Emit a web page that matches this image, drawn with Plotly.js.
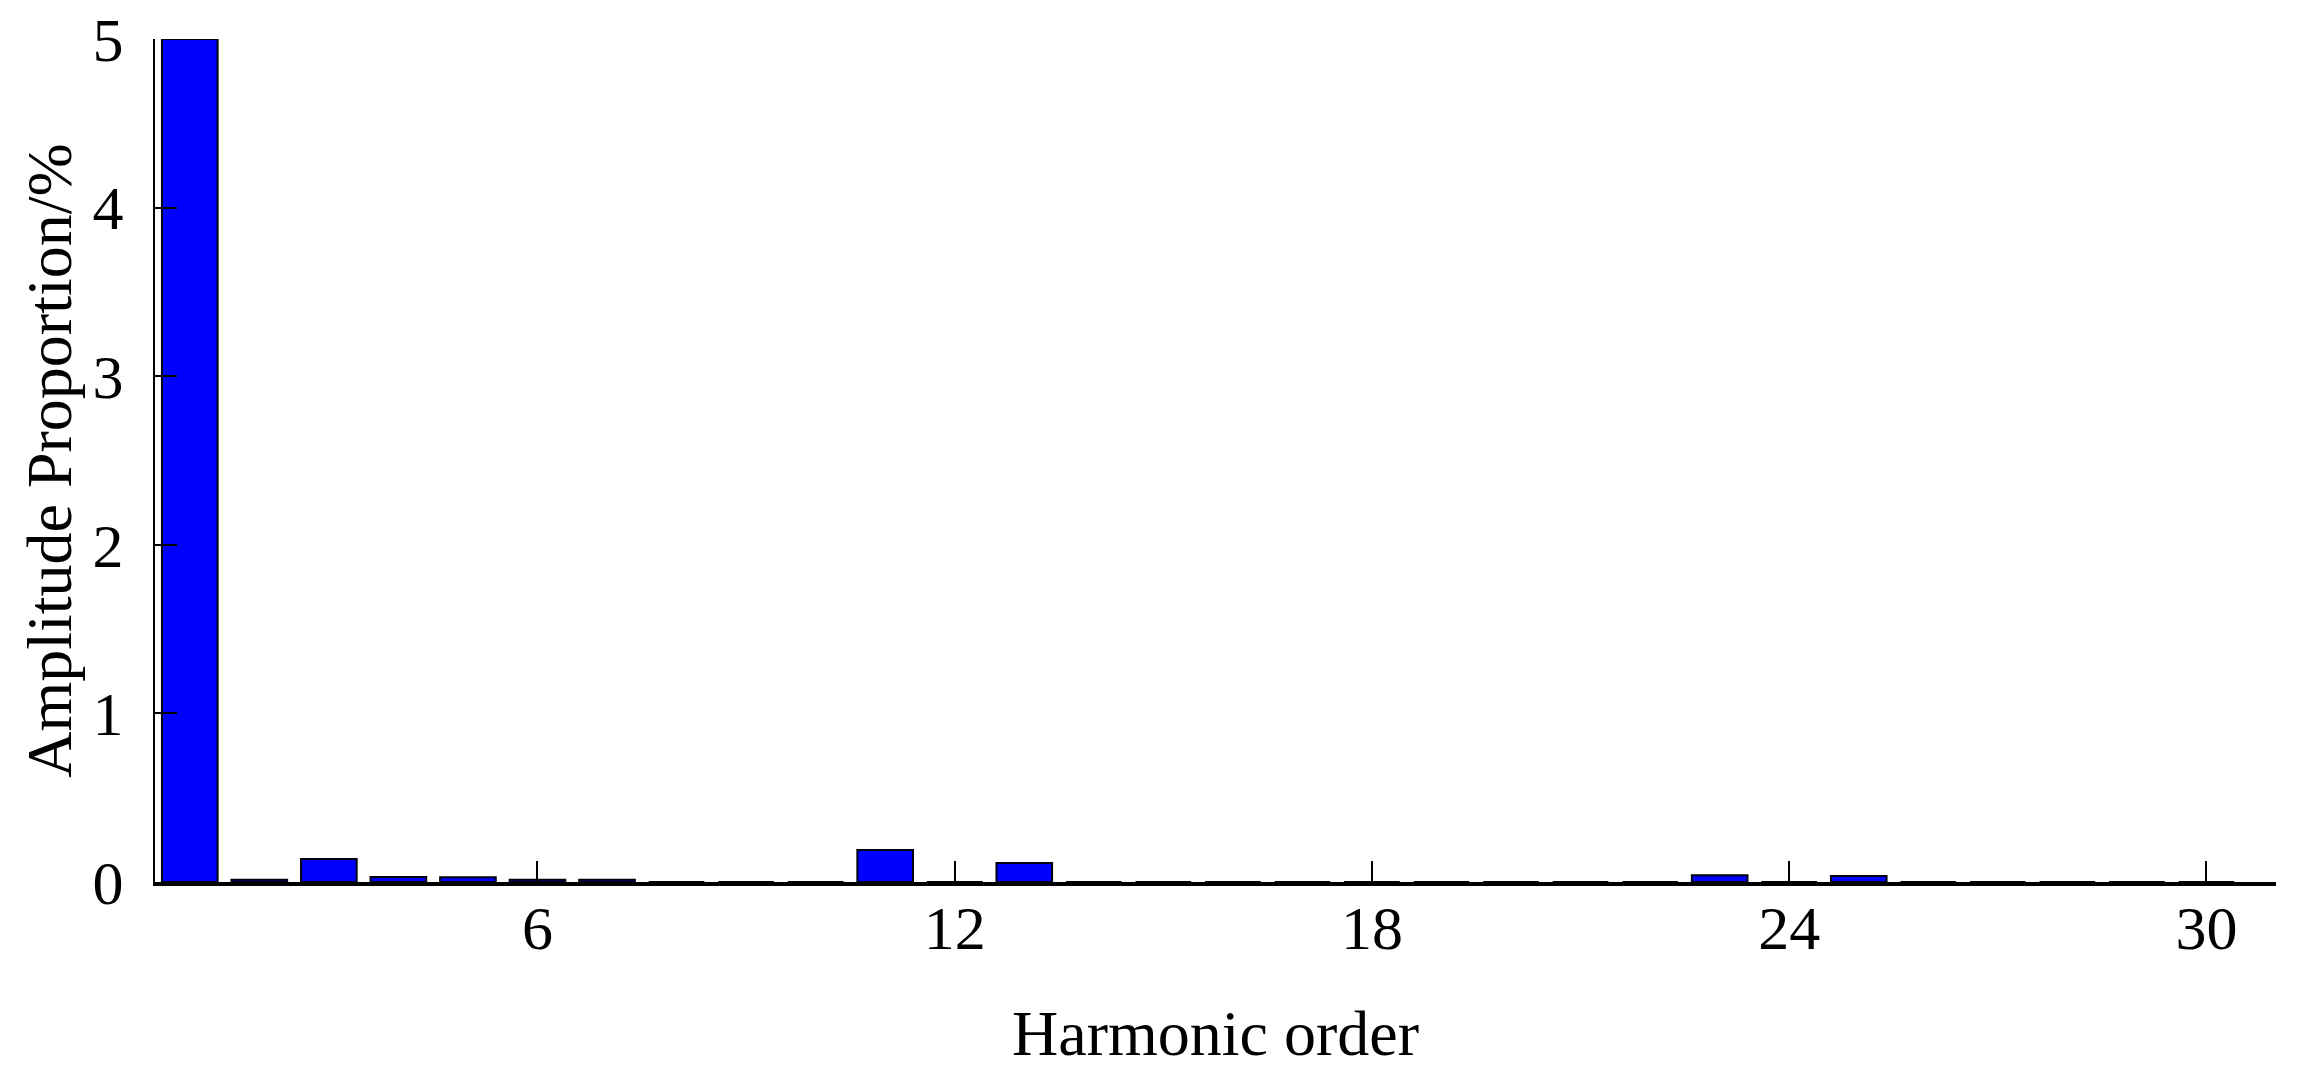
<!DOCTYPE html>
<html>
<head>
<meta charset="utf-8">
<script src="https://cdn.plot.ly/plotly-3.0.1.min.js"></script>
<style>
  html, body { margin: 0; padding: 0; background: #fff; }
  #chart { width: 2305px; height: 1083px; }
</style>
</head>
<body>
<div id="chart"></div>
<script>
// harmonic orders 1..30 and their amplitude proportion (%)
const orders = [1, 2, 3, 4, 5, 6, 7, 8, 9, 10, 11, 12, 13, 14, 15,
  16, 17, 18, 19, 20, 21, 22, 23, 24, 25, 26, 27, 28, 29, 30];
const amplitude = [5.0, 0.013, 0.137, 0.03, 0.028, 0.013, 0.013, 0, 0, 0, 0.19, 0, 0.113, 0, 0,
  0, 0, 0, 0, 0, 0, 0, 0.04, 0, 0.035, 0, 0, 0, 0, 0];
const xTicks = [6, 12, 18, 24, 30];
const yTicks = [0, 1, 2, 3, 4, 5];

const serif = 'Liberation Serif, Times New Roman, serif';

const trace = {
  type: 'bar',
  x: orders,
  y: amplitude,
  width: 0.8,
  marker: {
    color: '#0000ff',
    line: { color: '#000010', width: 2 },
  },
  hoverinfo: 'x+y',
};

const layout = {
  width: 2305,
  height: 1083,
  margin: { l: 155, r: 29, t: 39, b: 201 },
  paper_bgcolor: '#fff',
  plot_bgcolor: '#fff',
  showlegend: false,
  font: { family: serif, size: 63, color: '#000' },
  xaxis: {
    range: [0.5, 31],
    tickmode: 'array',
    tickvals: xTicks,
    ticks: 'inside',
    ticklen: 21,
    tickwidth: 2,
    tickcolor: '#000',
    showline: true,
    linewidth: 4,
    linecolor: '#000',
    layer: 'above traces',
    showgrid: false,
    zeroline: false,
    ticklabelstandoff: -11,
    tickfont: { family: serif, size: 62 },
    title: { text: 'Harmonic order', font: { family: serif, size: 64 }, standoff: 50 },
    automargin: false,
  },
  yaxis: {
    range: [0, 5],
    tickmode: 'array',
    tickvals: yTicks,
    ticks: 'inside',
    ticklen: 22,
    tickwidth: 2,
    tickcolor: '#000',
    showline: true,
    linewidth: 2,
    linecolor: '#000',
    showgrid: false,
    zeroline: false,
    ticklabelstandoff: 17,
    tickfont: { family: serif, size: 62 },
    title: { text: 'Amplitude Proportion/%', font: { family: serif, size: 64 }, standoff: 0 },
    automargin: false,
  },
};

Plotly.newPlot('chart', [trace], layout, { displayModeBar: false, staticPlot: true });
</script>
</body>
</html>
